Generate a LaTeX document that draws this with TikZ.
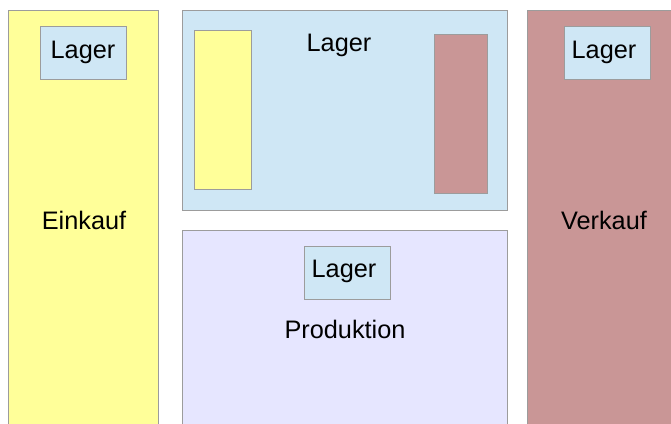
\documentclass[tikz,border=0pt]{standalone}
\usepackage{fontspec}
\setmainfont{Liberation Sans}
\definecolor{einkauf}{HTML}{FFFF99}
\definecolor{lager}{HTML}{CFE7F5}
\definecolor{verkauf}{HTML}{C99696}
\definecolor{produktion}{HTML}{E6E6FF}
\definecolor{rand}{HTML}{9C9C9C}
\begin{document}
\begin{tikzpicture}[x=1pt,y=-1pt,
  area/.style={draw=rand,line width=1pt},
  label/.style={font=\fontsize{25.3}{29}\selectfont,inner sep=0pt,anchor=center}]
\useasboundingbox (0,0) rectangle (671,423);
\clip (0,0) rectangle (671,423);
% Einkauf
\draw[area,fill=einkauf] (8,10) rectangle (158,440);
\draw[area,fill=lager] (40,26) rectangle (126,79.5);
\node[label] (einkaufLager) at (83,52.5) {Lager};
\node[label] (einkauf) at (84,220) {Einkauf};
% central warehouse
\draw[area,fill=lager] (182.3,10.3) rectangle (507.7,210);
\draw[area,fill=einkauf] (194.3,30.7) rectangle (251.7,189.3);
\draw[area,fill=verkauf] (434.3,34.3) rectangle (487.7,193.3);
\node[label] (lager) at (339,45.5) {Lager};
% Produktion
\draw[area,fill=produktion] (182.3,230) rectangle (507.7,440);
\draw[area,fill=lager] (304.3,246) rectangle (390.3,299.3);
\node[label] (produktionLager) at (344,271.5) {Lager};
\node[label] (produktion) at (345,329) {Produktion};
% Verkauf
\draw[area,fill=verkauf] (527.3,10) rectangle (690,440);
\draw[area,fill=lager] (564.3,26.7) rectangle (650,79.3);
\node[label] (verkaufLager) at (604,52.5) {Lager};
\node[label] (verkauf) at (604,220) {Verkauf};
\end{tikzpicture}
\end{document}
